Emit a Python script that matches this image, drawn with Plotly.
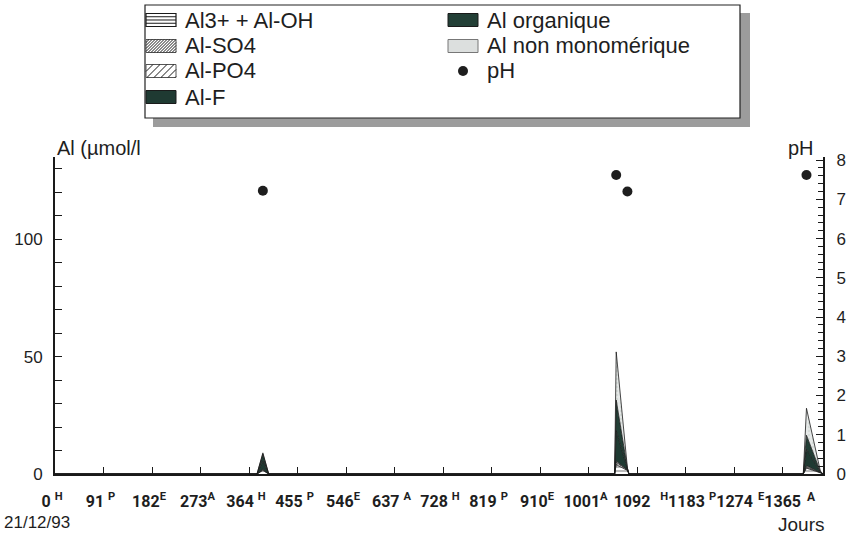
import plotly.graph_objects as go

# ---- data ----
days = [0, 379, 390, 401, 1050, 1053, 1074, 1077, 1404, 1410, 1436, 1441]
al3_oh      = [0, 0, 1.5, 0, 0, 4.0, 1.5, 0, 0, 2.5, 0.5, 0]
al_so4      = [0, 0, 0.3, 0, 0, 1.0, 0.2, 0, 0, 0.5, 0.1, 0]
al_po4      = [0, 0, 0.2, 0, 0, 0.5, 0.1, 0, 0, 0.5, 0.1, 0]
al_f        = [0, 0, 3.5, 0, 0, 13.0, 0.3, 0, 0, 7.0, 0.2, 0]
al_org      = [0, 0, 3.0, 0, 0, 13.0, 0.3, 0, 0, 6.0, 0.2, 0]
al_nonmono  = [0, 0, 0.5, 0, 0, 20.5, 0.2, 0, 0, 11.5, 0.2, 0]

ph_days = [390, 1053, 1074, 1410]
ph_vals = [7.22, 7.62, 7.2, 7.62]

tick_days = [0, 91, 182, 273, 364, 455, 546, 637, 728, 819, 910, 1001, 1092, 1183, 1274, 1365]
tick_text = ["0 <sup>H</sup>", "91 <sup>P</sup>", "182<sup>E</sup>", "273<sup>A</sup>",
             "364 <sup>H</sup>", "455 <sup>P</sup>", "546<sup>E</sup>", "637 <sup>A</sup>",
             "728 <sup>H</sup>", "819 <sup>P</sup>", "910<sup>E</sup>", "1001<sup>A</sup>",
             "1092 ", "<sup>H</sup>1183", "<sup>P</sup>1274", "<sup>E</sup>1365"]

names = ["Al3+ + Al-OH", "Al-SO4", "Al-PO4", "Al-F", "Al organique", "Al non monomérique"]
values = [al3_oh, al_so4, al_po4, al_f, al_org, al_nonmono]

DARK1 = "#1f3a32"
DARK2 = "#233f36"
LIGHT = "#e6e9e8"
INK = "#1a1a1a"
TXT = "#1e1e1e"
FONT = "Liberation Sans, Arial, sans-serif"
NARROW = "Liberation Sans Narrow, Roboto, sans-serif"

patterns = {
    "Al3+ + Al-OH": dict(shape="-", fgcolor=INK, bgcolor="white", size=4, solidity=0.3),
    "Al-SO4": dict(shape="/", fgcolor=INK, bgcolor="white", size=3, solidity=0.4),
    "Al-PO4": dict(shape="/", fgcolor=INK, bgcolor="white", size=6, solidity=0.2),
    "Al non monomérique": dict(shape=".", fgcolor="#c4cbc8", bgcolor=LIGHT, size=4, solidity=0.3),
}
solid = {"Al-F": DARK1, "Al organique": DARK2}

fig = go.Figure()
for name, vals in zip(names, values):
    kw = dict(x=days, y=vals, name=name, mode="lines", stackgroup="one",
              line=dict(color=INK, width=0.8), showlegend=False)
    if name in solid:
        kw["fillcolor"] = solid[name]
    else:
        kw["fillpattern"] = patterns[name]
        kw["fillcolor"] = patterns[name]["bgcolor"]
    fig.add_trace(go.Scatter(**kw))

fig.add_trace(go.Scatter(x=ph_days, y=ph_vals, name="pH", mode="markers", yaxis="y2",
                         marker=dict(color=TXT, size=10), showlegend=False))

# ---------- hand-drawn legend (frame, swatches, texts) ----------
L, R, T, B = 55, 823, 157, 474


def px(x, y):
    return (x - L) / (R - L), (B - y) / (B - T)


def rect(x0, y0, x1, y1, **kw):
    a, b = px(x0, y1)
    c, d = px(x1, y0)
    fig.add_shape(type="rect", xref="paper", yref="paper", x0=a, y0=b, x1=c, y1=d, **kw)


def segs_path(segs):
    parts = []
    for (x0, y0, x1, y1) in segs:
        a, b = px(x0, y0)
        c, d = px(x1, y1)
        parts.append(f"M{a:.5f},{b:.5f}L{c:.5f},{d:.5f}")
    return "".join(parts)


def diag_segs(x0, y0, x1, y1, step):
    # "/" lines clipped to the box
    segs = []
    h = y1 - y0
    k = x0 - h
    while k < x1:
        sx, sy = k, y1
        ex, ey = k + h, y0
        if sx < x0:
            sy = y1 - (x0 - sx)
            sx = x0
        if ex > x1:
            ey = y0 + (ex - x1)
            ex = x1
        if ex > sx:
            segs.append((sx, sy, ex, ey))
        k += step
    return segs


# shadow + frame
rect(153, 13, 750, 127, fillcolor="#9c9c9c", line=dict(width=0), layer="below")
rect(145, 5, 740, 118, fillcolor="white", line=dict(color="#222", width=1.2), layer="below")

rows = [20, 46, 71, 97]
SW, SH = 30, 13
lx_sw, lx_tx = 146, 183
rx_sw, rx_tx = 448, 485

legend_left = names[:4]
legend_right = names[4:] + ["pH"]

ann = []
for i, nm in enumerate(legend_left):
    ann.append(dict(text=nm, xref="paper", yref="paper", x=px(lx_tx, 0)[0], y=px(0, rows[i])[1],
                    xanchor="left", yanchor="middle", showarrow=False, font=dict(size=22)))
for i, nm in enumerate(legend_right):
    ann.append(dict(text=nm, xref="paper", yref="paper", x=px(rx_tx, 0)[0], y=px(0, rows[i])[1],
                    xanchor="left", yanchor="middle", showarrow=False, font=dict(size=22)))


def swatch(x, yc, kind):
    y0, y1 = yc - SH / 2, yc + SH / 2
    x1 = x + SW
    if kind == "Al3+ + Al-OH":
        rect(x, y0, x1, y1, fillcolor="white", line=dict(color=INK, width=1.2))
        segs = [(x, y0 + SH * f, x1, y0 + SH * f) for f in (0.25, 0.5, 0.75)]
        fig.add_shape(type="path", xref="paper", yref="paper", path=segs_path(segs),
                      line=dict(color=INK, width=1))
    elif kind in ("Al-SO4", "Al-PO4"):
        rect(x, y0, x1, y1, fillcolor="white", line=dict(color="#555", width=1))
        step = 3 if kind == "Al-SO4" else 7
        fig.add_shape(type="path", xref="paper", yref="paper", path=segs_path(diag_segs(x, y0, x1, y1, step)),
                      line=dict(color=INK, width=1))
    elif kind in solid:
        rect(x, y0, x1, y1, fillcolor=solid[kind], line=dict(color=INK, width=1))
    elif kind == "Al non monomérique":
        rect(x, y0, x1, y1, fillcolor="#dcdfde", line=dict(color="#777", width=1))
    elif kind == "pH":
        a, b = px(x + SW / 2 - 5, yc - 5)
        c, d = px(x + SW / 2 + 5, yc + 5)
        fig.add_shape(type="circle", xref="paper", yref="paper", x0=a, y0=d, x1=c, y1=b,
                      fillcolor=TXT, line=dict(color=TXT, width=0))


for i, nm in enumerate(legend_left):
    swatch(lx_sw, rows[i], nm)
for i, nm in enumerate(legend_right):
    swatch(rx_sw, rows[i], nm)

ann += [
    dict(text="Al (µmol/l", xref="paper", yref="paper", x=0, y=px(0, 148)[1],
         xanchor="left", yanchor="middle", showarrow=False, font=dict(size=20)),
    dict(text="pH", xref="paper", yref="paper", x=px(816, 0)[0], y=px(0, 148)[1],
         xanchor="right", yanchor="middle", showarrow=False, font=dict(size=20)),
    dict(text="21/12/93", xref="paper", yref="paper", x=px(2, 0)[0], y=px(0, 522)[1],
         xanchor="left", yanchor="middle", showarrow=False, font=dict(size=17)),
    dict(text="Jours", xref="paper", yref="paper", x=px(826, 0)[0], y=px(0, 524)[1],
         xanchor="right", yanchor="middle", showarrow=False, font=dict(size=19)),
    dict(text="A", xref="x", yref="paper", x=1419, y=px(0, 497)[1],
         xanchor="center", yanchor="middle", showarrow=False,
         font=dict(family=NARROW, size=12, weight="bold")),
]

fig.update_layout(
    width=849, height=537,
    margin=dict(l=L, r=849 - R, t=T, b=537 - B, autoexpand=False),
    paper_bgcolor="white", plot_bgcolor="white",
    font=dict(family=FONT, size=17, color=TXT),
    showlegend=False,
    xaxis=dict(range=[0, 1441], tickvals=tick_days, ticktext=tick_text, tickangle=0,
               ticks="inside", ticklen=7, tickwidth=1.3, tickcolor=INK, ticklabelstandoff=12,
               ticklabelshift=-3,
               showline=True, linecolor=INK, linewidth=2, showgrid=False, zeroline=False,
               tickfont=dict(family=NARROW, size=16, color=TXT, weight="bold")),
    yaxis=dict(range=[0, 135], tickvals=[0, 50, 100], ticks="inside", ticklen=7, tickwidth=1.3,
               tickcolor=INK, showline=True, linecolor=INK, linewidth=2, ticklabelstandoff=7,
               showgrid=False, zeroline=False,
               minor=dict(dtick=10, ticks="inside", ticklen=7, tickwidth=1.3, tickcolor=INK, showgrid=False)),
    yaxis2=dict(range=[0, 8.08], overlaying="y", side="right", dtick=1, tick0=0, ticks="inside",
                ticklen=7, tickwidth=1.3, tickcolor=INK, showline=True, linecolor=INK,
                linewidth=2, showgrid=False, zeroline=False, ticklabelstandoff=8,
                minor=dict(dtick=0.2, ticks="inside", ticklen=5, tickwidth=1.2, tickcolor=INK, showgrid=False)),
    annotations=ann,
)

fig.write_html("out.html", config={"displayModeBar": False},
               post_script="document.body.style.margin='0';")
